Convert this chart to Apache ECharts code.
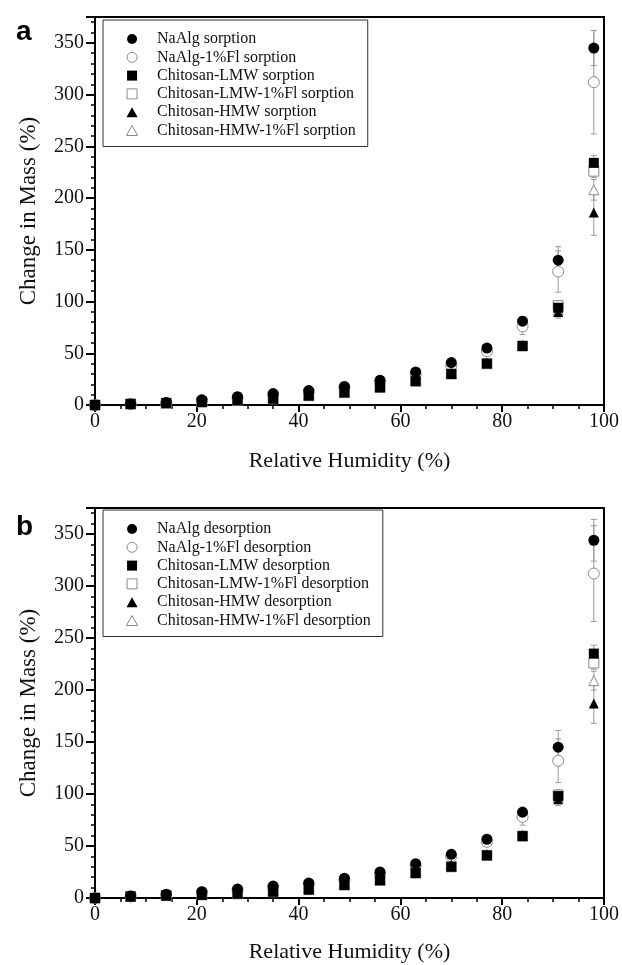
<!DOCTYPE html>
<html>
<head>
<meta charset="utf-8">
<script src="https://cdn.jsdelivr.net/npm/echarts@6/dist/echarts.min.js"></script>
<style>html,body{margin:0;padding:0;background:#fff}#c{width:622px;height:965px}</style>
</head>
<body>
<div id="c"></div>
<script>
const rh = [0, 7, 14, 21, 28, 35, 42, 49, 56, 63, 70, 77, 84, 91, 98];

// Panel a: sorption
const sNaAlg      = [0, 1, 2.5, 5, 8, 11, 14, 18, 24, 32, 41, 55, 81, 140, 345];
const sNaAlgErr   = [0, 0, 0, 0, 0, 0, 1, 1, 1, 1, 2, 2, 4, 13, 17];
const sNaAlgFl    = [0, 1, 2, 4.5, 7, 10, 13, 17, 22, 30, 38, 52, 76, 129, 312];
const sNaAlgFlErr = [0, 0, 0, 0, 0, 0, 1, 1, 1, 1, 2, 3, 8, 20, 50];
const sLMW        = [0, 1, 2, 3, 4.5, 6, 9, 12, 17, 23, 30, 40, 57, 94, 234];
const sLMWErr     = [0, 0, 0, 0, 0, 0, 0, 1, 1, 1, 1, 2, 3, 5, 7];
const sLMWFl      = [0, 1, 1.5, 3, 4.5, 6, 9, 12, 17, 23, 30, 40, 57, 96, 226];
const sLMWFlErr   = [0, 0, 0, 0, 0, 0, 0, 1, 1, 1, 1, 2, 3, 5, 6];
const sHMW        = [0, 1, 2, 3.5, 5.5, 8, 11, 14, 19, 25, 31, 41, 58, 90, 186];
const sHMWErr     = [0, 0, 0, 0, 0, 0, 0, 1, 1, 1, 1, 2, 3, 6, 22];
const sHMWFl      = [0, 1, 1.5, 3, 5, 7, 10, 13, 18, 24, 31, 40, 58, 92, 208];
const sHMWFlErr   = [0, 0, 0, 0, 0, 0, 0, 1, 1, 1, 1, 2, 3, 5, 10];

// Panel b: desorption
const dNaAlg      = [0, 2, 3.5, 6, 8.6, 11.5, 14.5, 19, 25, 33, 42, 56.5, 82.5, 145, 344];
const dNaAlgErr   = [0, 0, 0, 0, 0, 0, 1, 1, 1, 1, 2, 2, 5, 16, 20];
const dNaAlgFl    = [0, 1.5, 3, 5.5, 8, 10.5, 13.5, 17.5, 23, 31, 40, 54, 78, 132, 312];
const dNaAlgFlErr = [0, 0, 0, 0, 0, 0, 1, 1, 1, 1, 2, 3, 8, 21, 46];
const dLMW        = [0, 1.5, 2.5, 3, 4, 6, 8, 12.5, 17, 24, 30, 41, 59.5, 98, 235];
const dLMWErr     = [0, 0, 0, 0, 0, 0, 0, 1, 1, 1, 1, 2, 3, 5, 8];
const dLMWFl      = [0, 1.5, 2.5, 3, 4, 6, 8, 12.5, 17, 24, 30, 41, 59.5, 99, 226];
const dLMWFlErr   = [0, 0, 0, 0, 0, 0, 0, 1, 1, 1, 1, 2, 3, 5, 6];
const dHMW        = [0, 1.5, 2.5, 3.5, 5, 7, 10, 14, 19, 26, 32, 42, 60, 95, 187];
const dHMWErr     = [0, 0, 0, 0, 0, 0, 0, 1, 1, 1, 1, 2, 3, 6, 19];
const dHMWFl      = [0, 1.5, 2.5, 3.5, 5, 7, 10, 13, 18, 25, 31, 41, 60, 97, 209];
const dHMWFlErr   = [0, 0, 0, 0, 0, 0, 0, 1, 1, 1, 1, 2, 3, 5, 9];

const namesA = ['NaAlg sorption', 'NaAlg-1%Fl sorption', 'Chitosan-LMW sorption',
  'Chitosan-LMW-1%Fl sorption', 'Chitosan-HMW sorption', 'Chitosan-HMW-1%Fl sorption'];
const namesB = ['NaAlg desorption', 'NaAlg-1%Fl desorption', 'Chitosan-LMW desorption',
  'Chitosan-LMW-1%Fl desorption', 'Chitosan-HMW desorption', 'Chitosan-HMW-1%Fl desorption'];
const xTicks = [0, 20, 40, 60, 80, 100];
const yTicks = [0, 50, 100, 150, 200, 250, 300, 350];

const valsA = [sNaAlg, sNaAlgFl, sLMW, sLMWFl, sHMW, sHMWFl];
const errsA = [sNaAlgErr, sNaAlgFlErr, sLMWErr, sLMWFlErr, sHMWErr, sHMWFlErr];
const valsB = [dNaAlg, dNaAlgFl, dLMW, dLMWFl, dHMW, dHMWFl];
const errsB = [dNaAlgErr, dNaAlgFlErr, dLMWErr, dLMWFlErr, dHMWErr, dHMWFlErr];

const SQUARE = 'path://M0,0L10,0L10,10L0,10Z';
const TRI = 'path://M5,0L10,9L0,9Z';
const styles = [
  {symbol: 'circle', icon: 'circle', size: 11, filled: true},
  {symbol: 'circle', icon: 'circle', size: 11, filled: false},
  {symbol: 'rect', icon: SQUARE, size: 10, filled: true},
  {symbol: 'rect', icon: SQUARE, size: 10, filled: false},
  {symbol: 'triangle', icon: TRI, size: 10, filled: true},
  {symbol: 'triangle', icon: TRI, size: 10, filled: false}
];

const SERIF = 'Liberation Serif';

function makeAxes(gi) {
  const x = {
    type: 'value', gridIndex: gi, min: 0, max: 100, interval: 20,
    name: 'Relative Humidity (%)', nameLocation: 'middle', nameGap: gi === 0 ? 45 : 43,
    nameTextStyle: {fontFamily: SERIF, fontSize: 22, color: '#111'},
    axisLine: {show: true, onZero: false, lineStyle: {color: '#000', width: 2}},
    axisTick: {show: true, length: 7, lineStyle: {color: '#000', width: 2}},
    minorTick: {show: true, splitNumber: 4, length: 4, lineStyle: {color: '#000', width: 1.5}},
    axisLabel: {fontFamily: SERIF, fontSize: 20, color: '#111', margin: 7,
      formatter: v => xTicks.includes(v) ? String(v) : ''},
    splitLine: {show: false}
  };
  const y = {
    type: 'value', gridIndex: gi, min: 0, max: 375, interval: 50,
    name: 'Change in Mass (%)', nameLocation: 'middle', nameGap: 55,
    nameTextStyle: {fontFamily: SERIF, fontSize: 23, color: '#111'},
    axisLine: {show: true, onZero: false, lineStyle: {color: '#000', width: 2}},
    axisTick: {show: true, length: 9, lineStyle: {color: '#000', width: 2}},
    minorTick: {show: true, splitNumber: 5, length: 4, lineStyle: {color: '#000', width: 1.5}},
    axisLabel: {fontFamily: SERIF, fontSize: 20, color: '#111', margin: 11, showMaxLabel: false,
      formatter: v => yTicks.includes(v) ? String(v) : ''},
    splitLine: {show: false}
  };
  return {x, y};
}

const ax0 = makeAxes(0), ax1 = makeAxes(1);

function errSeries(gi, vals, errs, idx) {
  const data = rh.map((x, i) => [x, vals[i], errs[i]]);
  return {
    type: 'custom', name: 'err' + gi + '_' + idx, xAxisIndex: gi, yAxisIndex: gi, z: 1,
    silent: true,
    data: data,
    renderItem: function (params, api) {
      const x = api.value(0), y = api.value(1), e = api.value(2);
      if (!e) return null;
      const top = api.coord([x, y + e]);
      const bot = api.coord([x, y - e]);
      const st = {stroke: '#9a9a9a', lineWidth: 1};
      return {
        type: 'group',
        children: [
          {type: 'line', shape: {x1: top[0], y1: top[1], x2: bot[0], y2: bot[1]}, style: st},
          {type: 'line', shape: {x1: top[0] - 3, y1: top[1], x2: top[0] + 3, y2: top[1]}, style: st},
          {type: 'line', shape: {x1: bot[0] - 3, y1: bot[1], x2: bot[0] + 3, y2: bot[1]}, style: st}
        ]
      };
    }
  };
}

function itemStyleFor(s) {
  return s.filled ? {color: '#000', borderColor: '#000', borderWidth: 0, opacity: 1}
                  : {color: '#fff', borderColor: '#8a8a8a', borderWidth: 1, opacity: 1};
}

function scatterSeries(gi, name, vals, idx) {
  const s = styles[idx];
  return {
    type: 'scatter', name: name, xAxisIndex: gi, yAxisIndex: gi,
    symbol: s.symbol, symbolSize: s.size,
    z: s.filled ? 5 : 3,
    itemStyle: itemStyleFor(s),
    emphasis: {disabled: true},
    data: rh.map((x, i) => [x, vals[i]])
  };
}

const series = [];
[[0, namesA, valsA, errsA], [1, namesB, valsB, errsB]].forEach(([gi, names, vals, errs]) => {
  for (let i = 0; i < 6; i++) series.push(errSeries(gi, vals[i], errs[i], i));
  // draw open symbols first, filled on top
  [1, 3, 5, 0, 2, 4].forEach(i => series.push(scatterSeries(gi, names[i], vals[i], i)));
});

function legend(names, top) {
  return {
    data: names.map((n, i) => ({name: n, icon: styles[i].icon, itemStyle: itemStyleFor(styles[i])})),
    orient: 'vertical', left: 103, top: top,
    itemWidth: 40, itemHeight: 10, itemGap: 2.3, symbolKeepAspect: true,
    padding: [11, 12, 8, 23],
    borderColor: '#333', borderWidth: 1, backgroundColor: '#fff',
    textStyle: {fontFamily: SERIF, fontSize: 16, color: '#111', lineHeight: 16},
    selectedMode: false
  };
}

const chart = echarts.init(document.getElementById('c'), null, {renderer: 'canvas'});
chart.setOption({
  animation: false,
  backgroundColor: '#fff',
  title: [
    {text: 'a', left: 11, top: 13, textStyle: {fontFamily: 'Liberation Sans', fontWeight: 'bold', fontSize: 28, color: '#000'}},
    {text: 'b', left: 11, top: 508, textStyle: {fontFamily: 'Liberation Sans', fontWeight: 'bold', fontSize: 28, color: '#000'}}
  ],
  grid: [
    {left: 95, top: 17, right: 17, height: 388, show: true, borderColor: '#000', borderWidth: 2, backgroundColor: 'transparent'},
    {left: 95, top: 508, right: 17, height: 390, show: true, borderColor: '#000', borderWidth: 2, backgroundColor: 'transparent'}
  ],
  xAxis: [ax0.x, ax1.x],
  yAxis: [ax0.y, ax1.y],
  legend: [legend(namesA, 20), legend(namesB, 510)],
  series: series
});
</script>
</body>
</html>
